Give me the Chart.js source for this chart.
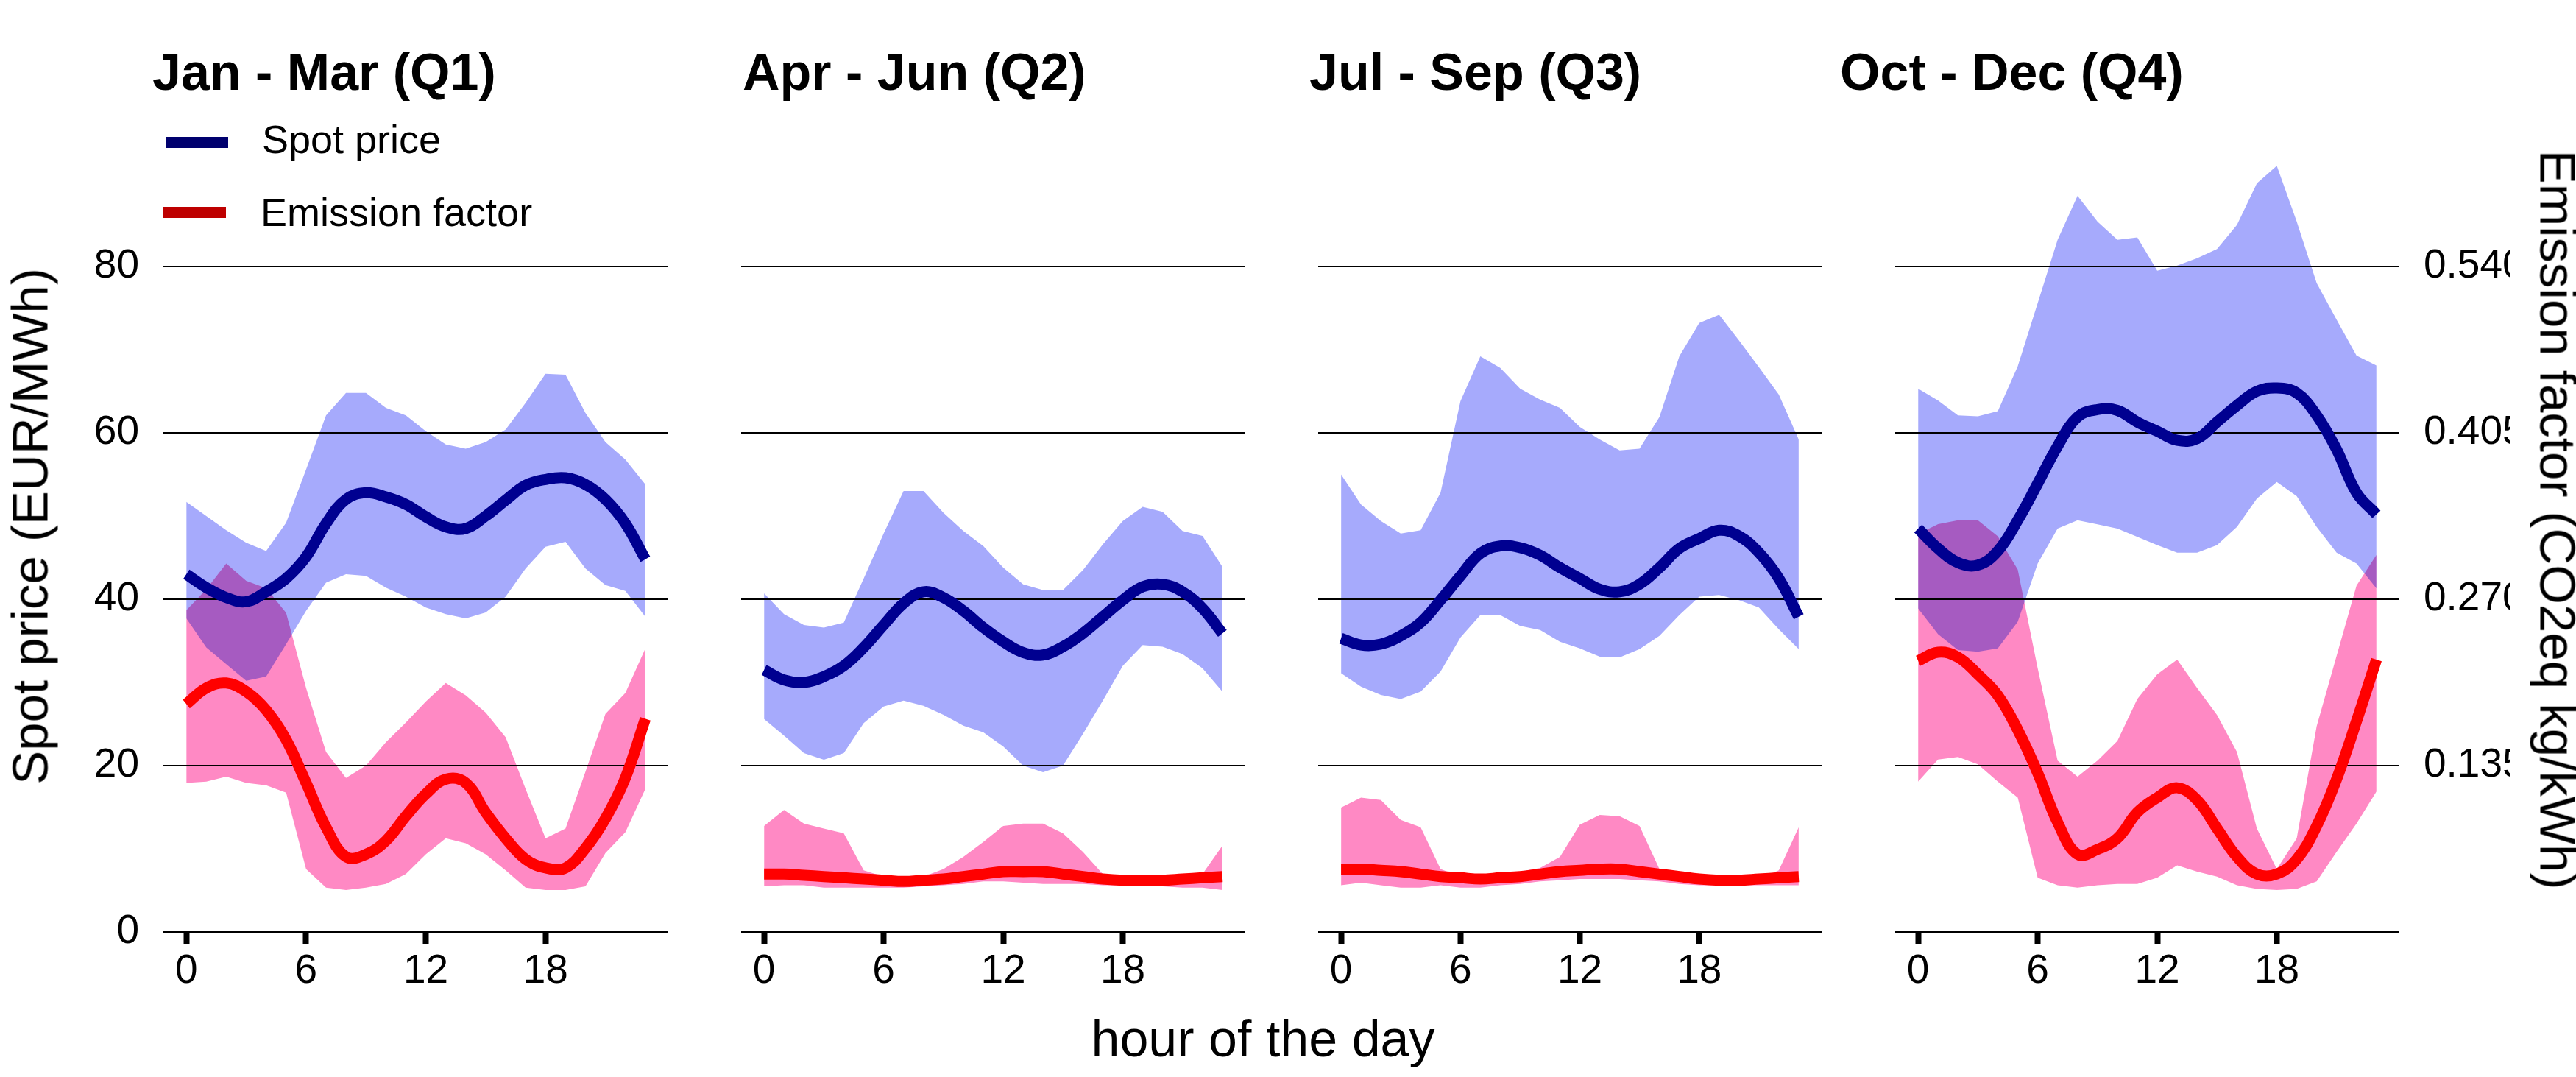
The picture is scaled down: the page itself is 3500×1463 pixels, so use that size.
<!DOCTYPE html>
<html>
<head>
<meta charset="utf-8">
<script src="https://cdn.jsdelivr.net/npm/chart.js@4.4.1/dist/chart.umd.min.js"></script>
<style>
html, body { margin: 0; padding: 0; background: #fff; }
body { width: 3500px; height: 1463px; position: relative; overflow: hidden;
       font-family: "Liberation Sans", Arial, sans-serif; color: #000; }
canvas { position: absolute; top: 0; }
.ttl { position: absolute; top: 63px; font-size: 70px; line-height: 70px; font-weight: bold; white-space: nowrap; }
.lgtxt { position: absolute; font-size: 54px; line-height: 54px; white-space: nowrap; }
.lgbar { position: absolute; height: 15px; width: 85px; }
.axt { position: absolute; font-size: 69px; line-height: 69px; white-space: nowrap; }
</style>
</head>
<body>
<canvas id="q1" width="940" height="1463" style="left:0px"></canvas>
<canvas id="q2" width="770" height="1463" style="left:950px"></canvas>
<canvas id="q3" width="760" height="1463" style="left:1740px"></canvas>
<canvas id="q4" width="980" height="1463" style="left:2520px"></canvas>

<div class="ttl" id="t1" style="left:207px"></div>
<div class="ttl" id="t2" style="left:1009px"></div>
<div class="ttl" id="t3" style="left:1779px"></div>
<div class="ttl" id="t4" style="left:2500px"></div>

<div class="lgbar" style="left:225px;top:186px;background:#00006E"></div>
<div class="lgtxt" style="left:356px;top:162px">Spot price</div>
<div class="lgbar" style="left:222px;top:281px;background:#BE0000"></div>
<div class="lgtxt" style="left:354px;top:261px">Emission factor</div>

<div class="axt" style="left:41px;top:715px;transform:translate(-50%,-50%) rotate(-90deg)">Spot price (EUR/MWh)</div>
<div class="axt" style="left:3475px;top:706px;transform:translate(-50%,-50%) rotate(90deg)">Emission factor (CO2eq kg/kWh)</div>
<div class="axt" style="left:1716px;top:1376px;font-size:70px;line-height:70px;transform:translateX(-50%)">hour of the day</div>

<script>
const hours = [0,1,2,3,4,5,6,7,8,9,10,11,12,13,14,15,16,17,18,19,20,21,22,23];
const xTicks = [0, 6, 12, 18];
const priceTicks = [0, 20, 40, 60, 80];
const emissionTicks = [0.135, 0.270, 0.405, 0.540];
const quarterTitles = ['Jan - Mar (Q1)', 'Apr - Jun (Q2)', 'Jul - Sep (Q3)', 'Oct - Dec (Q4)'];

// spot price (EUR/MWh): mean, upper and lower band
const priceMeanQ1 = [43.0,41.4,40.2,39.7,40.9,42.5,45.1,49.1,52.0,52.8,52.3,51.4,49.9,48.7,48.5,50.0,51.9,53.7,54.4,54.6,53.8,52.0,49.1,44.8];
const priceHighQ1 = [51.7,50.0,48.3,46.8,45.8,49.2,55.6,62.1,64.8,64.8,63.0,62.1,60.2,58.6,58.1,58.9,60.4,63.6,67.1,67.0,62.4,58.9,56.8,53.8];
const priceLowQ1  = [37.7,34.2,32.2,30.2,30.7,34.6,38.6,42.0,43.0,42.8,41.4,40.3,39.0,38.2,37.7,38.4,40.3,43.7,46.3,46.9,43.7,41.7,41.0,37.9];

const priceMeanQ2 = [31.5,30.3,30.0,30.7,32.0,34.2,36.9,39.5,40.9,40.2,38.6,36.6,34.9,33.6,33.3,34.3,35.9,37.9,39.9,41.5,41.8,40.9,38.9,35.9];
const priceHighQ2 = [40.7,38.2,36.9,36.6,37.2,42.5,47.9,53.0,53.0,50.4,48.2,46.4,43.8,41.8,41.1,41.1,43.5,46.6,49.4,51.1,50.5,48.2,47.6,43.9];
const priceLowQ2  = [25.6,23.6,21.5,20.7,21.5,25.1,27.1,27.8,27.2,26.1,24.8,24.0,22.3,20.0,19.2,20.0,23.8,27.8,32.0,34.5,34.3,33.4,31.7,28.9];

const priceMeanQ3 = [35.3,34.5,34.6,35.6,37.2,39.9,42.8,45.5,46.4,46.2,45.3,43.8,42.5,41.2,40.9,41.8,43.8,46.1,47.3,48.3,47.6,45.6,42.5,37.9];
const priceHighQ3 = [55.0,51.4,49.4,47.9,48.3,52.8,63.8,69.2,67.8,65.3,64.0,63.0,60.7,59.2,57.9,58.1,61.9,69.2,73.2,74.2,71.1,67.9,64.6,59.2];
const priceLowQ3  = [31.1,29.5,28.5,28.0,28.9,31.3,35.4,38.1,38.1,36.8,36.3,34.9,34.1,33.1,33.0,34.0,35.6,38.1,40.3,40.5,39.9,39.0,36.4,34.0];

const priceMeanQ4 = [48.5,46.1,44.4,44.1,45.8,49.5,53.9,58.4,61.9,62.8,62.7,61.3,60.2,59.1,59.3,61.3,63.3,65.0,65.4,64.8,62.1,58.0,52.8,50.2];
const priceHighQ4 = [65.3,63.9,62.1,62.0,62.6,68.0,75.6,83.2,88.5,85.4,83.2,83.5,79.5,80.1,81.0,82.1,85.0,90.0,92.1,85.4,78.0,73.6,69.3,68.1];
const priceLowQ4  = [38.9,35.8,33.9,33.7,34.1,37.3,44.3,48.5,49.5,49.0,48.5,47.5,46.5,45.6,45.6,46.5,48.7,52.1,54.1,52.4,48.7,45.6,44.3,41.3];

// emission factor (kg CO2eq/kWh): mean, upper and lower band
const emisMeanQ1 = [0.185,0.198,0.202,0.195,0.180,0.156,0.121,0.085,0.061,0.063,0.074,0.094,0.112,0.124,0.121,0.097,0.076,0.059,0.052,0.052,0.068,0.092,0.125,0.173];
const emisHighQ1 = [0.261,0.278,0.299,0.285,0.279,0.259,0.198,0.146,0.125,0.135,0.154,0.170,0.187,0.202,0.192,0.178,0.158,0.116,0.076,0.084,0.130,0.177,0.194,0.230];
const emisLowQ1  = [0.121,0.122,0.126,0.121,0.119,0.113,0.051,0.036,0.034,0.036,0.039,0.047,0.063,0.076,0.072,0.063,0.050,0.036,0.034,0.034,0.037,0.064,0.081,0.116];

const emisMeanQ2 = [0.047,0.047,0.046,0.045,0.044,0.043,0.042,0.041,0.042,0.043,0.045,0.047,0.049,0.049,0.049,0.047,0.045,0.043,0.042,0.042,0.042,0.043,0.044,0.045];
const emisHighQ2 = [0.086,0.099,0.088,0.084,0.080,0.050,0.045,0.043,0.045,0.051,0.061,0.073,0.086,0.088,0.088,0.080,0.065,0.047,0.045,0.043,0.043,0.044,0.047,0.070];
const emisLowQ2  = [0.037,0.038,0.038,0.036,0.036,0.036,0.036,0.036,0.037,0.038,0.039,0.041,0.041,0.040,0.039,0.039,0.039,0.038,0.038,0.037,0.037,0.036,0.036,0.034];

const emisMeanQ3 = [0.051,0.051,0.050,0.049,0.047,0.045,0.044,0.043,0.044,0.045,0.047,0.049,0.050,0.051,0.051,0.049,0.047,0.045,0.043,0.042,0.042,0.043,0.044,0.045];
const emisHighQ3 = [0.101,0.109,0.107,0.091,0.085,0.051,0.045,0.043,0.045,0.049,0.052,0.061,0.087,0.095,0.094,0.086,0.051,0.045,0.043,0.042,0.041,0.043,0.050,0.085];
const emisLowQ3  = [0.038,0.040,0.038,0.036,0.036,0.038,0.036,0.036,0.038,0.039,0.041,0.042,0.043,0.043,0.043,0.042,0.041,0.039,0.038,0.038,0.038,0.038,0.038,0.038];

const emisMeanQ4 = [0.220,0.227,0.223,0.209,0.192,0.164,0.129,0.089,0.063,0.067,0.076,0.097,0.109,0.117,0.107,0.084,0.061,0.047,0.047,0.059,0.086,0.124,0.171,0.221];
const emisHighQ4 = [0.323,0.331,0.334,0.334,0.321,0.294,0.214,0.139,0.126,0.139,0.155,0.189,0.209,0.221,0.198,0.176,0.146,0.084,0.051,0.076,0.167,0.224,0.281,0.306];
const emisLowQ4  = [0.122,0.140,0.142,0.136,0.122,0.109,0.044,0.038,0.036,0.038,0.039,0.039,0.044,0.054,0.049,0.045,0.038,0.035,0.034,0.035,0.041,0.065,0.088,0.114];

const FONT = '"Liberation Sans", Arial, sans-serif';
const TICK_SIZE = 55;
const priceMax = 98;
const emisMax = 0.6615;   // right axis lined up with the left one (0.540 <-> 80)

// bands are painted first with "multiply" so the overlap turns purple
const blendPlugin = {
    id: 'blend',
    beforeRender(chart) { chart.ctx.globalCompositeOperation = 'multiply'; },
    beforeDraw(chart) { chart.ctx.globalCompositeOperation = 'source-over'; }
};

function band(data, axis, color) {
    return {
        data: data, yAxisID: axis, fill: color ? '+1' : false,
        backgroundColor: color || 'transparent', borderColor: 'transparent',
        borderWidth: 0, pointRadius: 0, tension: 0
    };
}

function meanLine(data, axis, color) {
    return {
        data: data, yAxisID: axis, fill: false, borderColor: color,
        borderWidth: 15, pointRadius: 0, tension: 0.4
    };
}

function drawPanel(elementId, q, pad, showLeft, showRight) {
    const ctx = document.getElementById(elementId).getContext('2d');
    return new Chart(ctx, {
        type: 'line',
        data: {
            labels: hours,
            datasets: [
                meanLine(q.emisMean, 'y2', '#FF0000'),
                meanLine(q.priceMean, 'y', '#000090'),
                band(q.priceHigh, 'y', 'rgb(166,170,252)'),
                band(q.priceLow, 'y', null),
                band(q.emisHigh, 'y2', 'rgb(255,137,196)'),
                band(q.emisLow, 'y2', null)
            ]
        },
        options: {
            responsive: false,
            animation: false,
            devicePixelRatio: 1,
            layout: { padding: pad },
            plugins: {
                legend: { display: false },
                title: { display: false },
                tooltip: { enabled: false },
                filler: { drawTime: 'beforeDraw', propagate: false }
            },
            scales: {
                x: {
                    type: 'linear', min: -1.15, max: 24.15,
                    afterBuildTicks: s => { s.ticks = xTicks.map(v => ({ value: v })); },
                    afterFit: s => { s.height = 197; },
                    grid: { display: true, drawOnChartArea: false, drawTicks: true,
                            tickLength: 17, tickWidth: 8, tickColor: '#000' },
                    border: { display: false },
                    ticks: { color: '#000', font: { family: FONT, size: TICK_SIZE }, padding: 4,
                             maxRotation: 0, autoSkip: false }
                },
                y: {
                    position: 'left', min: 0, max: priceMax,
                    afterBuildTicks: s => { s.ticks = priceTicks.map(v => ({ value: v })); },
                    afterFit: s => { s.width = showLeft ? 120 : 0; },
                    grid: { color: '#000', lineWidth: 2, drawTicks: false },
                    border: { display: false },
                    ticks: { display: showLeft, color: '#000', font: { family: FONT, size: TICK_SIZE }, padding: 33 }
                },
                y2: {
                    position: 'right', min: 0, max: emisMax, display: showRight,
                    afterBuildTicks: s => { s.ticks = emissionTicks.map(v => ({ value: v })); },
                    afterFit: s => { s.width = showRight ? 150 : 0; },
                    grid: { display: false, drawTicks: false },
                    border: { display: false },
                    ticks: { color: '#000', font: { family: FONT, size: TICK_SIZE }, padding: 33,
                             callback: v => Number(v).toFixed(3) }
                }
            }
        },
        plugins: [blendPlugin]
    });
}

const quarters = [
    { priceMean: priceMeanQ1, priceHigh: priceHighQ1, priceLow: priceLowQ1,
      emisMean: emisMeanQ1, emisHigh: emisHighQ1, emisLow: emisLowQ1 },
    { priceMean: priceMeanQ2, priceHigh: priceHighQ2, priceLow: priceLowQ2,
      emisMean: emisMeanQ2, emisHigh: emisHighQ2, emisLow: emisLowQ2 },
    { priceMean: priceMeanQ3, priceHigh: priceHighQ3, priceLow: priceLowQ3,
      emisMean: emisMeanQ3, emisHigh: emisHighQ3, emisLow: emisLowQ3 },
    { priceMean: priceMeanQ4, priceHigh: priceHighQ4, priceLow: priceLowQ4,
      emisMean: emisMeanQ4, emisHigh: emisHighQ4, emisLow: emisLowQ4 }
];

for (let i = 0; i < 4; i++) {
    document.getElementById('t' + (i + 1)).textContent = quarterTitles[i];
}

// plot area: value 0 sits at y=1266, 11.3 px per EUR/MWh
const areaTop = 1266 - priceMax * 11.3;
drawPanel('q1', quarters[0], { left: 102, right: 32, top: areaTop, bottom: 0 }, true, false);
drawPanel('q2', quarters[1], { left: 57, right: 28, top: areaTop, bottom: 0 }, false, false);
drawPanel('q3', quarters[2], { left: 51, right: 25, top: areaTop, bottom: 0 }, false, false);
drawPanel('q4', quarters[3], { left: 55, right: 90, top: areaTop, bottom: 0 }, false, true);
</script>
</body>
</html>
